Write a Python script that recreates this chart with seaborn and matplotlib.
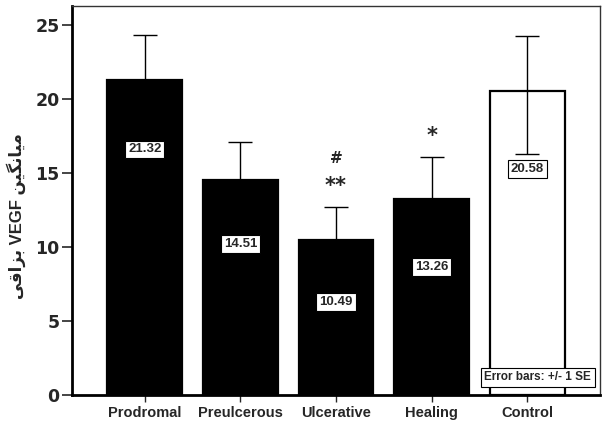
import numpy as np
import pandas as pd
import matplotlib
matplotlib.use("Agg")
import matplotlib.pyplot as plt
import seaborn as sns

# ── data ─────────────────────────────────────────────────────────────────────
groups = ["Prodromal", "Preulcerous", "Ulcerative", "Healing", "Control"]
means = [21.32, 14.51, 10.49, 13.26, 20.58]
err_low = [3.0, 2.6, 2.2, 2.8, 4.3]
err_high = [3.0, 2.6, 2.2, 2.8, 3.7]
label_pos = [16.6, 10.2, 6.3, 8.65, 15.3]   # where SPSS put the value boxes
bar_colors = ["black", "black", "black", "black", "white"]

# persian "mean salivary VEGF", pre-shaped + visual order (mpl has no bidi)
ylab = ("\uFBFD\uFED7\uFE8D\uFEB0\uFE91" + " VEGF "
        + "\uFEE6\uFBFF\uFB95\uFEE7\uFE8E\uFBFF\uFEE3")

df = pd.DataFrame({"group": groups, "mean": means})

sns.set_style("white")
plt.rcParams["font.family"] = ["Liberation Sans", "DejaVu Sans"]

fig = plt.figure(figsize=(6.02, 4.26), dpi=100)
ax = fig.add_axes([0.1196, 0.0728, 0.8771, 0.9132])

sns.barplot(data=df, x="group", y="mean", hue="group", palette=bar_colors,
            order=groups, errorbar=None, width=0.78, legend=False,
            edgecolor="black", linewidth=1.6, ax=ax)

x = np.arange(len(groups))
ax.errorbar(x, means, yerr=[err_low, err_high], fmt="none", ecolor="black",
            elinewidth=1.0, capsize=8.5, capthick=1.0, zorder=3)

# value boxes
for xi, yi, m in zip(x, label_pos, means):
    ax.text(xi, yi, f"{m:.2f}", ha="center", va="center", fontsize=9.5,
            fontweight="bold", zorder=4,
            bbox=dict(boxstyle="square,pad=0.22", fc="white", ec="black", lw=0.8))

# significance marks
ax.text(2, 14.1, "**", ha="center", va="center", fontsize=15,
        fontweight="bold", family="DejaVu Sans")
ax.text(2, 16.0, "#", ha="center", va="center", fontsize=11,
        fontweight="bold", family="DejaVu Sans")
ax.text(3, 17.5, "*", ha="center", va="center", fontsize=15,
        fontweight="bold", family="DejaVu Sans")

ax.text(0.983, 0.045, "Error bars: +/- 1 SE", transform=ax.transAxes,
        ha="right", va="center", fontsize=8.5, fontweight="bold", zorder=5,
        bbox=dict(boxstyle="square,pad=0.3", fc="white", ec="black", lw=0.8))

ax.set_xlim(-0.76, 4.76)
ax.set_ylim(0, 26.3)
ax.set_yticks([0, 5, 10, 15, 20, 25])
ax.set_xlabel("")
ax.set_ylabel(ylab, fontsize=12, fontweight="bold")
ax.yaxis.set_label_coords(-0.087, 0.46)

ax.tick_params(axis="y", direction="out", length=7, width=1.2, labelsize=12.5, pad=2)
ax.tick_params(axis="x", direction="out", length=5, width=1.0, labelsize=10.5, pad=3)
ax.tick_params(left=True, bottom=True)
for lab in ax.get_yticklabels():
    lab.set_fontweight("bold")
    lab.set_family("DejaVu Sans")
for lab in ax.get_xticklabels():
    lab.set_fontweight("bold")

for side in ["left", "bottom"]:
    ax.spines[side].set_linewidth(2.0)
    ax.spines[side].set_color("black")
for side in ["top", "right"]:
    ax.spines[side].set_linewidth(1.0)
    ax.spines[side].set_color("#333333")

fig.savefig("out.png", dpi=100)
